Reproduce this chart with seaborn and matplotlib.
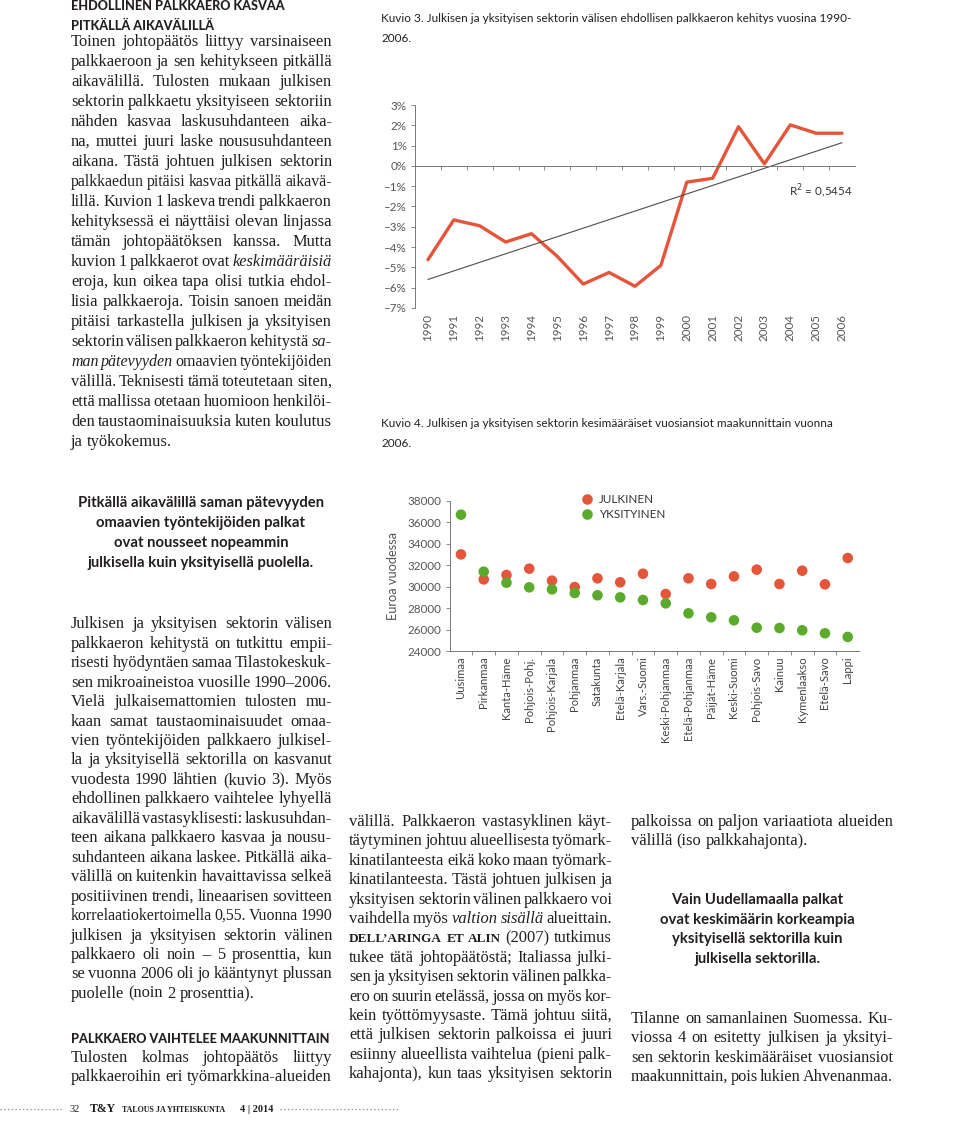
import matplotlib
matplotlib.use('Agg')
import numpy as np
import pandas as pd
import matplotlib.pyplot as plt
import seaborn as sns
from matplotlib.lines import Line2D
from matplotlib.ticker import FixedLocator, NullFormatter

sns.set_theme(style='white')
plt.rcParams['font.family'] = ['Lato', 'DejaVu Sans']
plt.rcParams['axes.unicode_minus'] = False

W, H, DPI = 960, 1125, 100
SERIF = 'Liberation Serif'
SANS = 'Lato'
INK = '#231f20'
GREY = '#555555'
RED = '#e4553a'
GREEN = '#5aab2c'
BODY_PT = 11.9

# Kuvio 3: ehdollinen palkkaero 1990-2006 (%)
years = list(range(1990, 2007))
gap = [-4.62, -2.66, -2.95, -3.75, -3.34, -4.46, -5.82, -5.25, -5.93, -4.90,
       -0.80, -0.61, 1.93, 0.10, 2.02, 1.61, 1.61]
r2_label = 'R$^2$ = 0,5454'

# Kuvio 4: vuosiansiot maakunnittain 2006
regions = ['Uusimaa', 'Pirkanmaa', 'Kanta-Häme', 'Pohjois-Pohj.', 'Pohjois-Karjala',
           'Pohjanmaa', 'Satakunta', 'Etelä-Karjala', 'Vars.-Suomi', 'Keski-Pohjanmaa',
           'Etelä-Pohjanmaa', 'Päijät-Häme', 'Keski-Suomi', 'Pohjois-Savo', 'Kainuu',
           'Kymenlaakso', 'Etelä-Savo', 'Lappi']
julkinen = [33000, 30670, 31080, 31670, 30550, 29960, 30770, 30400, 31200, 29310,
            30770, 30240, 30950, 31580, 30240, 31480, 30210, 32660]
yksityinen = [36700, 31390, 30360, 29930, 29740, 29400, 29190, 29000, 28750, 28440,
              27510, 27140, 26860, 26170, 26140, 25930, 25650, 25310]
sectors = ['JULKINEN', 'YKSITYINEN']

df4 = pd.DataFrame({
    'maakunta': regions * 2,
    'euroa': julkinen + yksityinen,
    'sektori': [sectors[0]] * len(regions) + [sectors[1]] * len(regions),
})

fig = plt.figure(figsize=(W / DPI, H / DPI), dpi=DPI)
fig.patch.set_facecolor('white')
renderer = fig.canvas.get_renderer()


def fx(x):
    return x / W


def fy(y):
    return 1 - y / H


def body(lines, x0, x1, y0, step, size=BODY_PT):
    # tasattu teksti: '<' = kappaleen viimeinen rivi, *x* = kursiivi, ^X = kapiteeli
    colw = x1 - x0
    for i, line in enumerate(lines):
        left = line.startswith('<')
        if left:
            line = line[1:]
        y = fy(y0 + i * step)
        texts = []
        for w in line.split(' '):
            kw = dict(family=SERIF, size=size, color=INK)
            if w.startswith('*'):
                w = w.strip('*')
                kw['style'] = 'italic'
            elif w.startswith('^'):
                w = w[1:]
                kw.update(weight='bold', size=size * 0.8)
            texts.append(fig.text(0, y, w, va='baseline', ha='left', **kw))
        n = len(texts)
        widths = [t.get_window_extent(renderer).width for t in texts]
        minspace = size * 0.16 * DPI / 72
        need = sum(widths) + (n - 1) * minspace
        if need > colw:
            k = (colw - (n - 1) * minspace) / sum(widths)
            for t in texts:
                t.set_fontsize(t.get_fontsize() * k)
            widths = [t.get_window_extent(renderer).width for t in texts]
        space = size * 0.25 * DPI / 72
        if left or n == 1:
            g = space
        else:
            g = (colw - sum(widths)) / (n - 1)
        x = x0
        for t, wd in zip(texts, widths):
            t.set_x(fx(x))
            x += wd + g


def heading(text, x, y, size=9.1):
    fig.text(fx(x), fy(y), text, family=SANS, weight='black', size=size,
             color=INK, va='baseline')


def quote(lines, cx, y0, step, size=10.7):
    for i, s in enumerate(lines):
        fig.text(fx(cx), fy(y0 + i * step), s, family=SANS, weight='bold',
                 size=size, color=INK, ha='center', va='baseline')


# ---------------- vasen palsta ----------------
heading('EHDOLLINEN PALKKAERO KASVAA', 71, 10.5)
heading('PITKÄLLÄ AIKAVÄLILLÄ', 71, 29.5)
body([
    'Toinen johtopäätös liittyy varsinaiseen',
    'palkkaeroon ja sen kehitykseen pitkällä',
    'aikavälillä. Tulosten mukaan julkisen',
    'sektorin palkkaetu yksityiseen sektoriin',
    'nähden kasvaa laskusuhdanteen aika-',
    'na, muttei juuri laske noususuhdanteen',
    'aikana. Tästä johtuen julkisen sektorin',
    'palkkaedun pitäisi kasvaa pitkällä aikavä-',
    'lillä. Kuvion 1 laskeva trendi palkkaeron',
    'kehityksessä ei näyttäisi olevan linjassa',
    'tämän johtopäätöksen kanssa. Mutta',
    'kuvion 1 palkkaerot ovat *keskimääräisiä*',
    'eroja, kun oikea tapa olisi tutkia ehdol-',
    'lisia palkkaeroja. Toisin sanoen meidän',
    'pitäisi tarkastella julkisen ja yksityisen',
    'sektorin välisen palkkaeron kehitystä *sa-*',
    '*man* *pätevyyden* omaavien työntekijöiden',
    'välillä. Teknisesti tämä toteutetaan siten,',
    'että mallissa otetaan huomioon henkilöi-',
    'den taustaominaisuuksia kuten koulutus',
    '<ja työkokemus.',
], 71, 332, 45.7, 20.0)

quote(['Pitkällä aikavälillä saman pätevyyden',
       'omaavien työntekijöiden palkat',
       'ovat nousseet nopeammin',
       'julkisella kuin yksityisellä puolella.'], 201, 507, 20)

body([
    'Julkisen ja yksityisen sektorin välisen',
    'palkkaeron kehitystä on tutkittu empii-',
    'risesti hyödyntäen samaa Tilastokeskuk-',
    'sen mikroaineistoa vuosille 1990–2006.',
    'Vielä julkaisemattomien tulosten mu-',
    'kaan samat taustaominaisuudet omaa-',
    'vien työntekijöiden palkkaero julkisel-',
    'la ja yksityisellä sektorilla on kasvanut',
    'vuodesta 1990 lähtien (kuvio 3). Myös',
    'ehdollinen palkkaero vaihtelee lyhyellä',
    'aikavälillä vastasyklisesti: laskusuhdan-',
    'teen aikana palkkaero kasvaa ja nousu-',
    'suhdanteen aikana laskee. Pitkällä aika-',
    'välillä on kuitenkin havaittavissa selkeä',
    'positiivinen trendi, lineaarisen sovitteen',
    'korrelaatiokertoimella 0,55. Vuonna 1990',
    'julkisen ja yksityisen sektorin välinen',
    'palkkaero oli noin – 5 prosenttia, kun',
    'se vuonna 2006 oli jo kääntynyt plussan',
    '<puolelle (noin 2 prosenttia).',
], 71, 332, 628.3, 19.45)

heading('PALKKAERO VAIHTELEE MAAKUNNITTAIN', 71, 1042.7)
body(['Tulosten kolmas johtopäätös liittyy',
      'palkkaeroihin eri työmarkkina-alueiden'], 71, 332, 1061.8, 19.4)

# ---------------- keskipalsta ----------------
body([
    'välillä. Palkkaeron vastasyklinen käyt-',
    'täytyminen johtuu alueellisesta työmark-',
    'kinatilanteesta eikä koko maan työmark-',
    'kinatilanteesta. Tästä johtuen julkisen ja',
    'yksityisen sektorin välinen palkkaero voi',
    'vaihdella myös *valtion* *sisällä* alueittain.',
    '^DELL’ARINGA ^ET ^ALIN (2007) tutkimus',
    'tukee tätä johtopäätöstä; Italiassa julki-',
    'sen ja yksityisen sektorin välinen palkka-',
    'ero on suurin etelässä, jossa on myös kor-',
    'kein työttömyysaste. Tämä johtuu siitä,',
    'että julkisen sektorin palkoissa ei juuri',
    'esiinny alueellista vaihtelua (pieni palk-',
    'kahajonta), kun taas yksityisen sektorin',
], 349, 612, 826, 19.4)

# ---------------- oikea palsta ----------------
body(['palkoissa on paljon variaatiota alueiden',
      '<välillä (iso palkkahajonta).'], 631, 893, 826, 19.4)
quote(['Vain Uudellamaalla palkat',
       'ovat keskimäärin korkeampia',
       'yksityisellä sektorilla kuin',
       'julkisella sektorilla.'], 757, 904, 19.7)
body(['Tilanne on samanlainen Suomessa. Ku-',
      'viossa 4 on esitetty julkisen ja yksityi-',
      'sen sektorin keskimääräiset vuosiansiot',
      'maakunnittain, pois lukien Ahvenanmaa.'], 631, 893, 1022.7, 19.4)

# ---------------- alatunniste ----------------
for a, b in [(0, 62), (280, 400)]:
    fig.add_artist(Line2D([fx(a), fx(b)], [fy(1108.5)] * 2, color='#8a8a8a',
                          lw=0.9, ls=(0, (1, 2))))
fig.text(fx(70), fy(1111.7), '32', family=SERIF, size=7.5, color=INK, va='baseline')
fig.text(fx(90), fy(1111.7), 'T&Y', family=SERIF, weight='bold', size=8.5,
         color=INK, va='baseline')
fig.text(fx(122), fy(1111.7), 'TALOUS JA YHTEISKUNTA', family=SERIF,
         weight='bold', size=5.8, color=INK, va='baseline')
fig.text(fx(240), fy(1111.7), '4 | 2014', family=SERIF, weight='bold', size=7.5,
         color=INK, va='baseline')

# ---------------- Kuvio 3 ----------------
cap_kw = dict(family=SANS, size=8.5, color=INK, va='baseline')
fig.text(fx(381), fy(22), 'Kuvio 3. Julkisen ja yksityisen sektorin välisen '
         'ehdollisen palkkaeron kehitys vuosina 1990-', **cap_kw)
fig.text(fx(381), fy(42), '2006.', **cap_kw)

ax1 = fig.add_axes([fx(415), fy(308), 440 / W, 203 / H])
sns.lineplot(x=years, y=gap, color=RED, lw=2.4, ax=ax1)
sns.regplot(x=years, y=gap, scatter=False, ci=None, color='#4d4d4d',
            line_kws={'lw': 0.8}, ax=ax1)
ax1.set_xlim(1989.5, 2006.5)
ax1.set_ylim(-7, 3)
for s in ['top', 'right']:
    ax1.spines[s].set_visible(False)
ax1.spines['bottom'].set_position(('data', 0))
for s in ['bottom', 'left']:
    ax1.spines[s].set_color('#777777')
    ax1.spines[s].set_linewidth(0.7)
ax1.xaxis.set_major_locator(FixedLocator([y + 0.5 for y in years[:-1]]))
ax1.xaxis.set_major_formatter(NullFormatter())
ax1.tick_params(axis='x', bottom=True, length=3, width=0.6, color='#777777')
ax1.set_yticks(range(-7, 4))
ax1.set_yticklabels([f'{v}%'.replace('-', '–') for v in range(-7, 4)])
ax1.tick_params(axis='y', left=True, length=3, width=0.6, color='#777777',
                labelsize=8.4, labelcolor=GREY, pad=3)
sec = ax1.secondary_xaxis('bottom')
sec.set_xticks(years)
sec.set_xticklabels([str(y) for y in years], rotation=90)
sec.tick_params(length=0, labelsize=8.4, labelcolor=GREY, pad=4)
sec.spines['bottom'].set_visible(False)
ax1.set_xlabel('')
ax1.set_ylabel('')
ax1.text(0.995, 0.552, r2_label, transform=ax1.transAxes, ha='right',
         va='baseline', size=8.4, color='#333333')

# ---------------- Kuvio 4 ----------------
fig.text(fx(381), fy(427), 'Kuvio 4. Julkisen ja yksityisen sektorin kesimääräiset '
         'vuosiansiot maakunnittain vuonna', **cap_kw)
fig.text(fx(381), fy(447), '2006.', **cap_kw)

ax2 = fig.add_axes([fx(449.6), fy(651), 409.5 / W, 150.3 / H])
sns.stripplot(data=df4, x='maakunta', y='euroa', hue='sektori', order=regions,
              hue_order=sectors, palette=[RED, GREEN], jitter=False, dodge=False,
              size=7.6, linewidth=0, ax=ax2)
ax2.set_xlim(-0.5, len(regions) - 0.5)
ax2.set_ylim(24000, 38000)
ax2.set_yticks(range(24000, 38001, 2000))
ax2.tick_params(axis='y', left=True, length=3, width=0.6, color='#777777',
                labelsize=8.4, labelcolor=GREY, pad=3)
ax2.tick_params(axis='x', length=0, labelsize=8.1, labelcolor='#444444', pad=4,
                labelrotation=90)
ax2.set_xticks(range(len(regions)), minor=False)
ax2.set_xticks([i + 0.5 for i in range(len(regions) - 1)], minor=True)
ax2.tick_params(axis='x', which='minor', bottom=True, length=3, width=0.6,
                color='#777777')
for s in ['top', 'right']:
    ax2.spines[s].set_visible(False)
for s in ['bottom', 'left']:
    ax2.spines[s].set_color('#777777')
    ax2.spines[s].set_linewidth(0.7)
ax2.set_xlabel('')
ax2.set_ylabel('Euroa vuodessa', size=9.2, color=GREY, labelpad=6)
ax2.legend(frameon=False, loc='upper left', bbox_to_anchor=(0.322, 1.045),
           handlelength=1.0, handletextpad=0.5, labelspacing=0.35, borderpad=0,
           borderaxespad=0, fontsize=8.4, labelcolor='#333333')

fig.savefig('out.png', dpi=DPI, facecolor='white')
